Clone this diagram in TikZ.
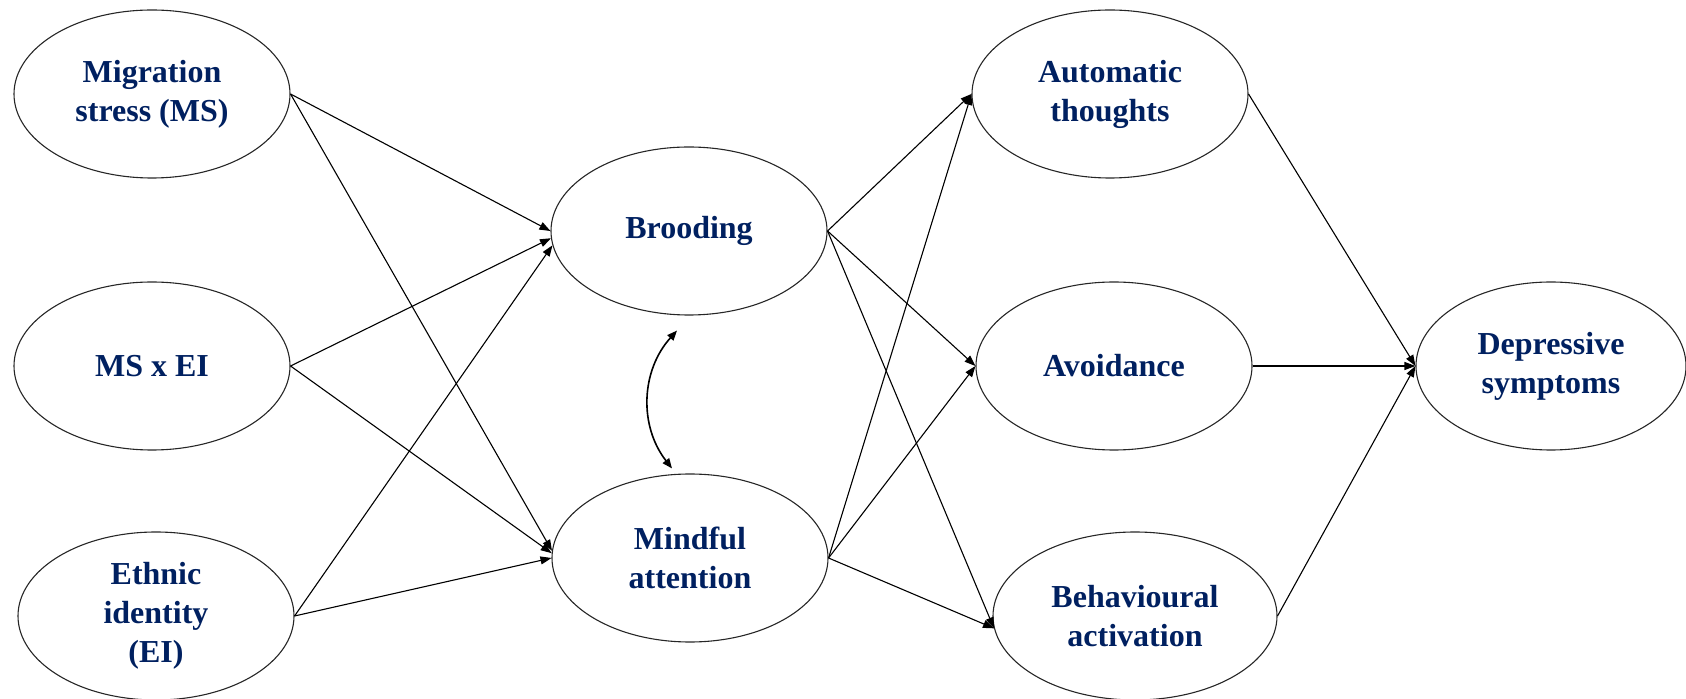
\documentclass[tikz,border=0pt]{standalone}
\usepackage{fontspec}
\setmainfont{Liberation Serif}
\usetikzlibrary{shapes.geometric,arrows.meta}
\definecolor{navy}{RGB}{0,32,96}
\tikzset{
  var/.style={ellipse,draw=black!85,line width=0.55pt,minimum width=138pt,
    minimum height=84pt,inner sep=0pt,align=center,text=navy,
    font=\bfseries\fontsize{16}{19.5}\selectfont},
  arr/.style={line width=0.55pt,-{Triangle[length=5.5pt,width=4pt]}},
  corr/.style={line width=0.8pt,{Triangle[length=5pt,width=4pt]}-{Triangle[length=5pt,width=4pt]}}
}
\begin{document}
\begin{tikzpicture}[x=0.5pt,y=-0.5pt]
\useasboundingbox (0,0) rectangle (1686,699);

% predictors
\node[var] (ms)   at (152,94)  {Migration\\stress (MS)};
\node[var] (msei) at (152,366) {MS x EI};
\node[var] (ei)   at (156,616) {Ethnic\\identity\\(EI)};

% mediators
\node[var] (brood) at (689,231) {Brooding};
\node[var] (mind)  at (690,558) {Mindful\\attention};

\node[var] (auto)  at (1110,94)  {Automatic\\thoughts};
\node[var] (avoid) at (1114,366) {Avoidance};
\node[var,minimum width=142pt] (behav) at (1135,616) {Behavioural\\activation};

% outcome
\node[var,minimum width=135pt] (depr) at (1551,366) {Depressive\\symptoms};

\foreach \s/\a in {ms/west,msei/183,ei/186}
  \draw[arr] (\s.east) -- (brood.\a);
\foreach \s/\a in {ms/177,msei/178,ei/west}
  \draw[arr] (\s.east) -- (mind.\a);

\foreach \s in {brood,mind}{
  \draw[arr] (\s.east) -- (auto.west);
  \draw[arr] (\s.east) -- (avoid.west);
  \draw[arr] (\s.east) -- (behav.185);
}

\foreach \s in {auto,avoid,behav}
  \draw[arr] (\s.east) -- (depr.west);

% covariance
\coordinate (cb) at ([xshift=-6pt,yshift=-7.5pt]brood.south);
\coordinate (cm) at ([xshift=-9pt,yshift=2.5pt]mind.north);
\draw[corr] (cb) to[bend right=40] (cm);
\end{tikzpicture}
\end{document}
